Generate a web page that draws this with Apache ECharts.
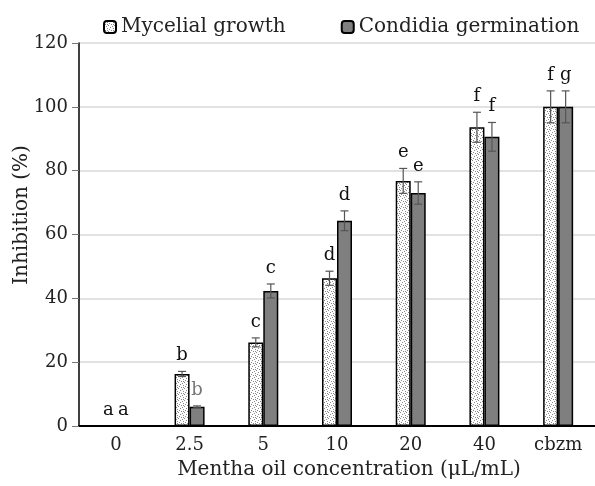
<!DOCTYPE html>
<html><head><meta charset="utf-8">
<script src="https://cdn.jsdelivr.net/npm/echarts@6/dist/echarts.min.js"></script>
<style>html,body{margin:0;padding:0;background:#fff}#c{width:595px;height:486px}</style>
</head><body><div id="c"></div>
<script>
const categories = ['0', '2.5', '5', '10', '20', '40', 'cbzm'];
const myceliumValues = [0, 16.3, 26.2, 46.3, 76.8, 93.6, 100];
const myceliumErrors = [0, 0.8, 1.4, 2.2, 3.9, 4.7, 5];
const myceliumLetters = ['a', 'b', 'c', 'd', 'e', 'f', 'f'];
const conidiaValues = [0, 6, 42.3, 64.3, 73, 90.6, 100];
const conidiaErrors = [0, 0.3, 2.2, 3.1, 3.5, 4.5, 5];
const conidiaLetters = ['a', 'b', 'c', 'd', 'e', 'f', 'g'];
const yTicks = [0, 20, 40, 60, 80, 100, 120];

const FONT = 'DejaVu Serif';
const BAR_W = 15;

// dotted pattern
const pc = document.createElement('canvas');
pc.width = 6; pc.height = 6;
const pctx = pc.getContext('2d');
pctx.fillStyle = '#fff'; pctx.fillRect(0, 0, 6, 6);
pctx.fillStyle = '#8a8a8a';
[[0,0],[3,1],[1,3],[4,4],[2,5],[5,2],[3,3]].forEach(p => pctx.fillRect(p[0], p[1], 1, 1));
const dotPattern = { image: pc, repeat: 'repeat' };

function errSeries(name, values, errors, letters, side, letterColors) {
  return {
    type: 'custom',
    name: name + ' err',
    z: 10,
    data: values.map((v, i) => [i, v, errors[i]]),
    renderItem: function (params, api) {
      const i = api.value(0), v = api.value(1), e = api.value(2);
      const base = api.coord([i, v]);
      const x = base[0] + side * BAR_W / 2;
      const top = api.coord([i, v + e])[1];
      const bot = api.coord([i, v - e])[1];
      const children = [];
      if (e > 0) {
        const st = { stroke: '#555', lineWidth: 1.2 };
        children.push({ type: 'line', shape: { x1: x, y1: top, x2: x, y2: bot }, style: st });
        children.push({ type: 'line', shape: { x1: x - 4, y1: top, x2: x + 4, y2: top }, style: st });
        children.push({ type: 'line', shape: { x1: x - 4, y1: bot, x2: x + 4, y2: bot }, style: st });
      }
      const letter = letters[params.dataIndex];
      children.push({
        type: 'text',
        style: {
          text: letter, x: x, y: top - 7,
          fill: (letterColors && letterColors[params.dataIndex]) || '#111',
          font: '18px "' + FONT + '"', textAlign: 'center', textVerticalAlign: 'bottom'
        }
      });
      return { type: 'group', children: children };
    }
  };
}

const chart = echarts.init(document.getElementById('c'), null, { renderer: 'canvas' });
chart.setOption({
  animation: false,
  backgroundColor: '#fff',
  textStyle: { fontFamily: FONT },
  legend: {
    data: ['Mycelial growth', 'Condidia germination'],
    left: 98, top: 12, itemWidth: 12, itemHeight: 12, itemGap: 55,
    textStyle: { fontFamily: FONT, fontSize: 20, color: '#222' }
  },
  grid: { left: 79, top: 43, width: 519, height: 383 },
  xAxis: {
    type: 'category', data: categories,
    axisLine: { lineStyle: { color: '#000', width: 2 } },
    axisTick: { show: false },
    axisLabel: { fontFamily: FONT, fontSize: 18, color: '#222', margin: 10 },
    name: 'Mentha oil concentration (μL/mL)', nameLocation: 'middle', nameGap: 34,
    nameTextStyle: { fontFamily: FONT, fontSize: 20, color: '#222', padding: [0, 0, 0, 24] }
  },
  yAxis: {
    type: 'value', min: yTicks[0], max: yTicks[yTicks.length - 1], interval: 20,
    axisLine: { show: true, lineStyle: { color: '#000', width: 1.5 } },
    axisTick: { show: true, length: 7, lineStyle: { color: '#777' } },
    axisLabel: { fontFamily: FONT, fontSize: 18, color: '#222', margin: 11 },
    splitLine: { lineStyle: { color: '#d9d9d9', width: 1.5 } }
  },
  graphic: [{
    type: 'text', x: 22, y: 215, rotation: Math.PI / 2,
    style: { text: 'Inhibition (%)', font: '20px "' + FONT + '"', fill: '#222', textAlign: 'center', textVerticalAlign: 'middle' }
  }],
  series: [
    {
      name: 'Mycelial growth', type: 'bar', data: myceliumValues, barWidth: BAR_W, barGap: '0%',
      itemStyle: { color: dotPattern, borderColor: '#000', borderWidth: 1.5 }
    },
    {
      name: 'Condidia germination', type: 'bar', data: conidiaValues, barWidth: BAR_W, barGap: '0%',
      itemStyle: { color: '#7f7f7f', borderColor: '#000', borderWidth: 1.5 }
    },
    errSeries('Mycelial growth', myceliumValues, myceliumErrors, myceliumLetters, -1),
    errSeries('Condidia germination', conidiaValues, conidiaErrors, conidiaLetters, 1, [null, '#777'])
  ]
});
</script></body></html>
